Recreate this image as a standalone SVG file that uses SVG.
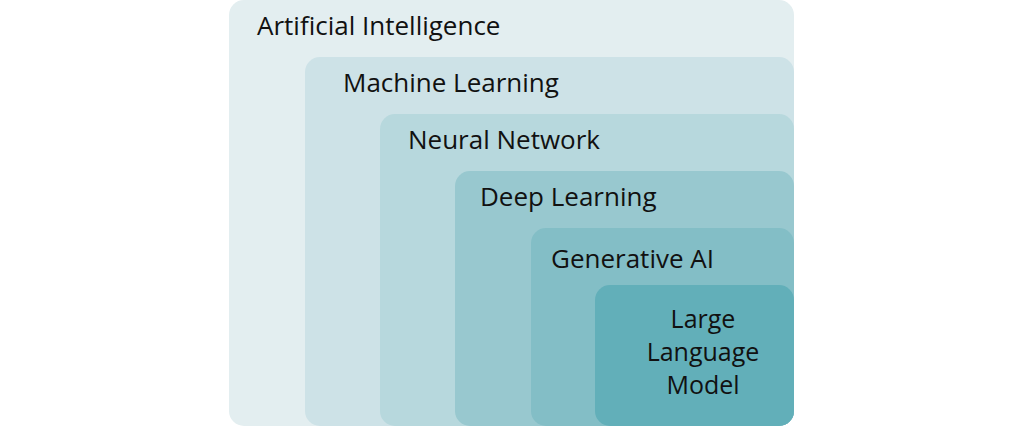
<svg xmlns="http://www.w3.org/2000/svg" width="1024" height="427" viewBox="0 0 1024 427">
<style>
.t{font-family:"Open Sans","Noto Sans","Liberation Sans",sans-serif;font-size:26px;fill:#111}
.s{font-size:25px}
</style>
<rect width="1024" height="427" fill="#ffffff"/>
<g id="ai"><rect x="229" y="0" width="565" height="426" rx="15" fill="#e3eef0"/><text class="t" x="257" y="35">Artificial Intelligence</text></g>
<g id="ml"><rect x="305" y="57" width="489" height="369" rx="15" fill="#cde2e7"/><text class="t" x="343" y="92">Machine Learning</text></g>
<g id="nn"><rect x="380" y="114" width="414" height="312" rx="15" fill="#b7d8dd"/><text class="t" x="408" y="149">Neural Network</text></g>
<g id="dl"><rect x="455" y="171" width="339" height="255" rx="15" fill="#98c8cf"/><text class="t" x="480" y="206">Deep Learning</text></g>
<g id="gai"><rect x="531" y="228" width="263" height="198" rx="15" fill="#83bec6"/><text class="t" x="551" y="268">Generative AI</text></g>
<g id="llm"><rect x="595" y="285" width="199" height="141" rx="15" fill="#62afb9"/><text class="t s" text-anchor="middle" x="703" y="328">Large</text><text class="t s" text-anchor="middle" x="703" y="361">Language</text><text class="t s" text-anchor="middle" x="703" y="394">Model</text></g>
</svg>
